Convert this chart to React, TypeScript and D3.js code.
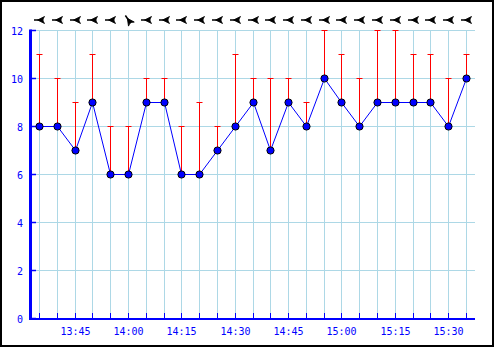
import React from "react";
import * as d3 from "d3";

const times = [
  "13:35", "13:40", "13:45", "13:50", "13:55", "14:00", "14:05", "14:10", "14:15",
  "14:20", "14:25", "14:30", "14:35", "14:40", "14:45", "14:50", "14:55", "15:00",
  "15:05", "15:10", "15:15", "15:20", "15:25", "15:30", "15:35",
];
const avgWind = [8, 8, 7, 9, 6, 6, 9, 9, 6, 6, 7, 8, 9, 7, 9, 8, 10, 9, 8, 9, 9, 9, 9, 8, 10];
const maxWind = [11, 10, 9, 11, 8, 8, 10, 10, 8, 9, 8, 11, 10, 10, 10, 9, 12, 11, 10, 12, 12, 11, 11, 10, 11];
const windDir = [270, 270, 270, 270, 270, 325, 270, 270, 270, 270, 270, 270, 270, 270, 270, 270, 270, 270, 270, 270, 270, 270, 270, 270, 270];
const xTickLabels = ["13:45", "14:00", "14:15", "14:30", "14:45", "15:00", "15:15", "15:30"];
const yTicks = [0, 2, 4, 6, 8, 10, 12];

const W = 495;
const H = 348;
const BLUE = "#0000ff";
const GRID = "#add8e6";
const FONT = "DejaVu Sans Mono, monospace";

export default function App() {
  const parse = d3.timeParse("%H:%M");
  const fmt = d3.timeFormat("%H:%M");
  const dates = times.map((t) => parse(t) as Date);
  const half = 2.5 * 60 * 1000;
  const x = d3
    .scaleTime()
    .domain([new Date(dates[0].getTime() - half), new Date(dates[dates.length - 1].getTime() + half)])
    .range([30.6, 475.4]);
  const y = d3.scaleLinear().domain([0, 12]).range([318.5, 30.5]);
  const px = (d: Date) => Math.floor(x(d)) + 0.5;

  const line = d3
    .line<number>()
    .x((_, i) => px(dates[i]))
    .y((v) => y(v));

  const left = 30;
  const right = 475;
  const tickDates = xTickLabels.map((t) => parse(t) as Date);

  return (
    <svg
      width={W}
      height={H}
      style={{ position: "absolute", left: 0, top: 0, background: "#fff" }}
    >
      <rect x={1} y={1} width={492} height={345} fill="#fff" stroke="#000" strokeWidth={2} />
      {/* horizontal grid */}
      {yTicks.map((v) => (
        <line key={"hg" + v} x1={left} x2={right} y1={y(v)} y2={y(v)} stroke={GRID} strokeWidth={1} />
      ))}
      {/* vertical grid */}
      {dates.map((d, i) => (
        <line key={"vg" + i} x1={px(d)} x2={px(d)} y1={y(12)} y2={y(0)} stroke={GRID} strokeWidth={1} />
      ))}
      {/* gust whiskers */}
      {dates.map((d, i) => (
        <g key={"wh" + i} stroke="#ff0000" strokeWidth={1}>
          <line x1={px(d)} x2={px(d)} y1={y(avgWind[i])} y2={y(maxWind[i])} />
          <line x1={px(d) - 3} x2={px(d) + 3} y1={y(maxWind[i])} y2={y(maxWind[i])} />
        </g>
      ))}
      {/* axes */}
      <line x1={30.5} x2={30.5} y1={29.5} y2={320} stroke={BLUE} strokeWidth={3} />
      <line x1={29} x2={right} y1={319} y2={319} stroke={BLUE} strokeWidth={2} />
      {yTicks.map((v) => (
        <g key={"yt" + v}>
          <line x1={30} x2={36} y1={y(v)} y2={y(v)} stroke={BLUE} strokeWidth={1.5} />
          <text
            x={23}
            y={y(v) + 4}
            textAnchor="end"
            fill={BLUE}
            fontFamily={FONT}
            fontSize={10}
          >
            {v}
          </text>
        </g>
      ))}
      {dates.map((d, i) => (
        <line key={"xt" + i} x1={px(d)} x2={px(d)} y1={313} y2={318} stroke={BLUE} strokeWidth={1} />
      ))}
      {tickDates.map((d, i) => (
        <text
          key={"xl" + i}
          x={px(d)}
          y={335}
          textAnchor="middle"
          fill={BLUE}
          fontFamily={FONT}
          fontSize={10}
        >
          {fmt(d)}
        </text>
      ))}
      {/* line */}
      <path d={line(avgWind) || ""} fill="none" stroke={BLUE} strokeWidth={1} />
      {dates.map((d, i) => (
        <circle key={"pt" + i} cx={px(d)} cy={y(avgWind[i])} r={3.6} fill={BLUE} stroke="#000" strokeWidth={1} />
      ))}
      {/* wind direction arrows */}
      {dates.map((d, i) => (
        <g key={"ar" + i} transform={`translate(${px(d)},20) rotate(${windDir[i] - 270})`}>
          <line x1={-5.5} x2={4} y1={0} y2={0} stroke="#000" strokeWidth={1.5} />
          <path d="M-2,0 L5,-3.5 L3,0 L5,3.5 Z" fill="#000" stroke="#000" strokeWidth={0.8} />
        </g>
      ))}
    </svg>
  );
}
